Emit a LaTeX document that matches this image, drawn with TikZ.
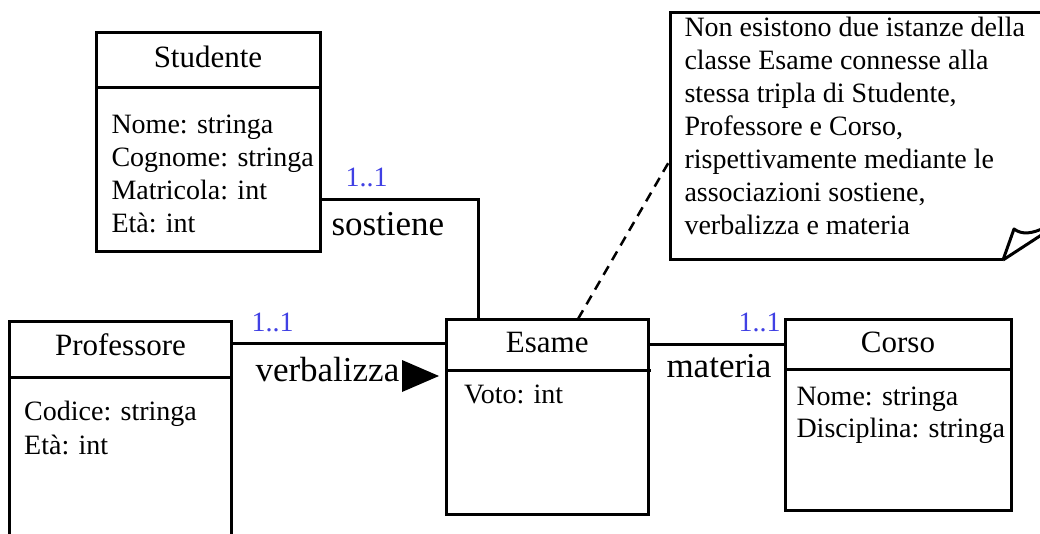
\documentclass[tikz,border=0pt]{standalone}
\usepackage{fontspec}
\setmainfont{Liberation Serif}
\definecolor{multblue}{RGB}{64,64,228}
\begin{document}
\begin{tikzpicture}[x=1pt,y=-1pt,line width=3pt,
  box/.style={draw,inner sep=0pt,outer sep=0pt},
  ctitle/.style={anchor=base,inner sep=0pt,font=\fontsize{31}{36}\selectfont},
  attr/.style={anchor=base west,inner sep=0pt,font=\fontsize{28}{33}\selectfont},
  assoc/.style={anchor=base west,inner sep=0pt,font=\fontsize{35}{40}\selectfont},
  mult/.style={anchor=base west,inner sep=0pt,text=multblue,font=\fontsize{28}{33}\selectfont},
  notetext/.style={anchor=base west,inner sep=0pt,font=\fontsize{28}{33}\selectfont},
  notelink/.style={line width=2.5pt,dash pattern=on 10pt off 7pt}]
\fill[white] (0,0) rectangle (1040,534);
\useasboundingbox (0,0) rectangle (1040,534);

% classes
\node[box,minimum width=224pt,minimum height=219pt] (stud) at (208,142.5) {};
\draw (stud.west |- 0,88) -- (stud.east |- 0,88);
\node[ctitle] (studT) at (208,67.7) {Studente};
\node[attr] (studA1) at (110,134) {Nome: stringa};
\node[attr] (studA2) at (110,167) {Cognome: stringa};
\node[attr] (studA3) at (110,200) {Matricola: int};
\node[attr] (studA4) at (110,232.5) {Età: int};

\node[box,minimum width=222pt,minimum height=230pt] (prof) at (120.5,436.7) {};
\draw (prof.west |- 0,377) -- (prof.east |- 0,377);
\node[ctitle] (profT) at (120.5,355) {Professore};
\node[attr] (profA1) at (22.7,420.7) {Codice: stringa};
\node[attr] (profA2) at (22.7,454) {Età: int};

\node[box,minimum width=201.5pt,minimum height=195pt] (esame) at (547.25,416.5) {};
\draw (esame.west |- 0,370) -- ([xshift=3pt]esame.east |- 0,370);
\node[ctitle] (esameT) at (547.25,352.7) {Esame};
\node[attr] (esameA1) at (462.7,403) {Voto: int};

\node[box,minimum width=226pt,minimum height=191pt] (corso) at (898,414.5) {};
\draw (corso.west |- 0,369) -- (corso.east |- 0,369);
\node[ctitle] (corsoT) at (898,352) {Corso};
\node[attr] (corsoA1) at (795,405) {Nome: stringa};
\node[attr] (corsoA2) at (795,437.5) {Disciplina: stringa};

% associations
\coordinate (sbend) at (478,200);
\draw (stud.east |- sbend) -- (sbend) -- (esame.north -| sbend);
\node[mult] (m1) at (344,186.7) {1..1};
\node[assoc] (sost) at (330,236) {sostiene};

\draw (prof.east |- 0,343) -- (esame.west |- 0,343);
\node[mult] (m2) at (250,331.7) {1..1};
\node[assoc] (verb) at (254,381.7) {verbalizza};
\fill (402,360) -- (439,376) -- (402,392) -- cycle;

\draw (esame.east |- 0,344) -- (corso.west |- 0,344);
\node[mult] (m3) at (737,331.7) {1..1};
\node[assoc] (mat) at (665,377) {materia};

% note
\coordinate (noteTL) at (670,12.7);
\coordinate (noteBL) at (670,260);
\coordinate (noteL) at (670,160);
\coordinate (foldA) at (1003,260);
\draw (foldA) -- (noteBL) -- (noteTL) -- (1050,12.7);
\draw[line join=round] (foldA) -- (1014,229) .. controls (1022,235) and (1032,234) .. (1046,227);
\draw (foldA) -- (1046,232);
\node[notetext] (n1) at (683,37) {Non esistono due istanze della};
\node[notetext] (n2) at (683,70) {classe Esame connesse alla};
\node[notetext] (n3) at (683,103) {stessa tripla di Studente,};
\node[notetext] (n4) at (683,136) {Professore e Corso,};
\node[notetext] (n5) at (683,169) {rispettivamente mediante le};
\node[notetext] (n6) at (683,202) {associazioni sostiene,};
\node[notetext] (n7) at (683,235) {verbalizza e materia};
\draw[notelink] (esame.north -| 578,0) -- (noteL);
\end{tikzpicture}
\end{document}
